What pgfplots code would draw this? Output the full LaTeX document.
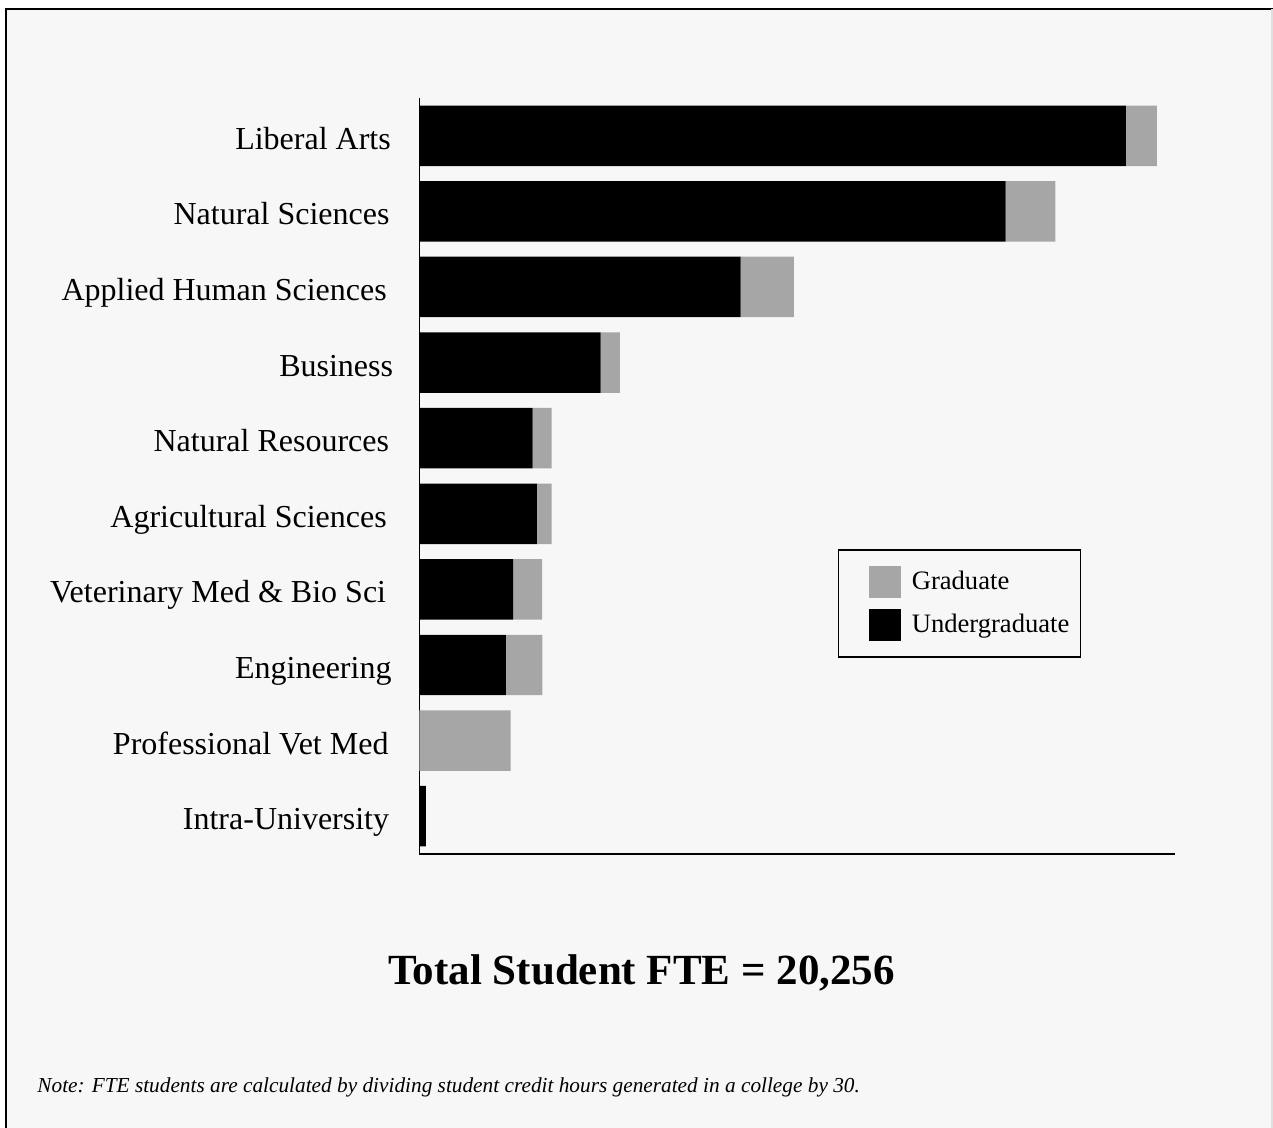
\documentclass[border=0pt]{standalone}
\usepackage{pgfplots}
\pgfplotsset{compat=1.18}
\usepackage{pgfplotstable}
\usepackage{fontspec}
\setmainfont{Liberation Serif}
\definecolor{bg}{HTML}{F7F7F7}
\definecolor{gradc}{HTML}{A6A6A6}
\pgfplotstableread{
idx ug grad
0 5607 246
1 4652 396
2 2550 422
3 1439 153
4 899 151
5 933 117
6 743 230
7 687 288
8 0 724
9 52 0
}\data
\begin{document}
\begin{tikzpicture}[x=1pt,y=1pt]
\useasboundingbox (0,0) rectangle (636.5,564);
\fill[white] (0,0) rectangle (636.5,564);
\fill[bg] (3,0) rectangle (636.5,559.5);
\draw[black, line width=1pt] (3,0) -- (3,559.5) -- (636.5,559.5);
\draw[black!12, line width=0.8pt] (635.9,0) -- (635.9,559.5);
\begin{axis}[
  at={(209.7pt,137pt)}, anchor=south west,
  width=378pt, height=378pt, scale only axis,
  xbar stacked, bar width=0.8,
  y dir=reverse, ymin=-0.5, ymax=9.5, xmin=0, xmax=6000,
  axis x line*=bottom, axis y line*=left,
  x axis line style={-}, y axis line style={-},
  axis line style={line width=0.6pt},
  xtick=\empty, ytick={0,...,9},
  yticklabels={Liberal Arts\kern0.7pt, Natural Sciences\kern1.35pt, Applied Human Sciences\kern2.7pt, Business\kern-0.45pt, Natural Resources\kern1.55pt, Agricultural Sciences\kern2.7pt, Veterinary Med \& Bio Sci\kern3.05pt, Engineering\kern0.35pt, Professional Vet Med\kern1.85pt, Intra-University\kern1.55pt},
  major tick length=0pt,
  yticklabel style={font=\fontsize{16}{19}\selectfont, anchor=base east, inner sep=0pt, xshift=-13.4pt, yshift=-6.8pt},
  reverse legend,
  legend image code/.code={\path (0pt,0pt); \fill[#1] (15pt,-8pt) rectangle (31pt,8pt);},
  legend style={at={(0.554,0.403)}, anchor=north west, draw=black, line width=0.6pt, fill=bg,
    font=\fontsize{13.3}{15}\selectfont, inner xsep=0pt, inner ysep=8pt, row sep=5.5pt,
    nodes={inner xsep=5.5pt}},
  legend cell align=left,
]
\addplot[fill=black, draw=none] table[x=ug, y=idx]{\data};
\addlegendentry{Undergraduate}
\addplot[fill=gradc, draw=none] table[x=grad, y=idx]{\data};
\addlegendentry{Graduate}
\end{axis}
\node[anchor=base, inner sep=0pt, font=\fontsize{21.5}{26}\selectfont\bfseries] at (320.75,71.5) {Total Student FTE = 20,256};
\node[anchor=base west, inner sep=0pt, font=\fontsize{10.65}{12}\selectfont\itshape] at (18.5,17.5) {Note: FTE students are calculated by dividing student credit hours generated in a college by 30.};
\end{tikzpicture}
\end{document}
